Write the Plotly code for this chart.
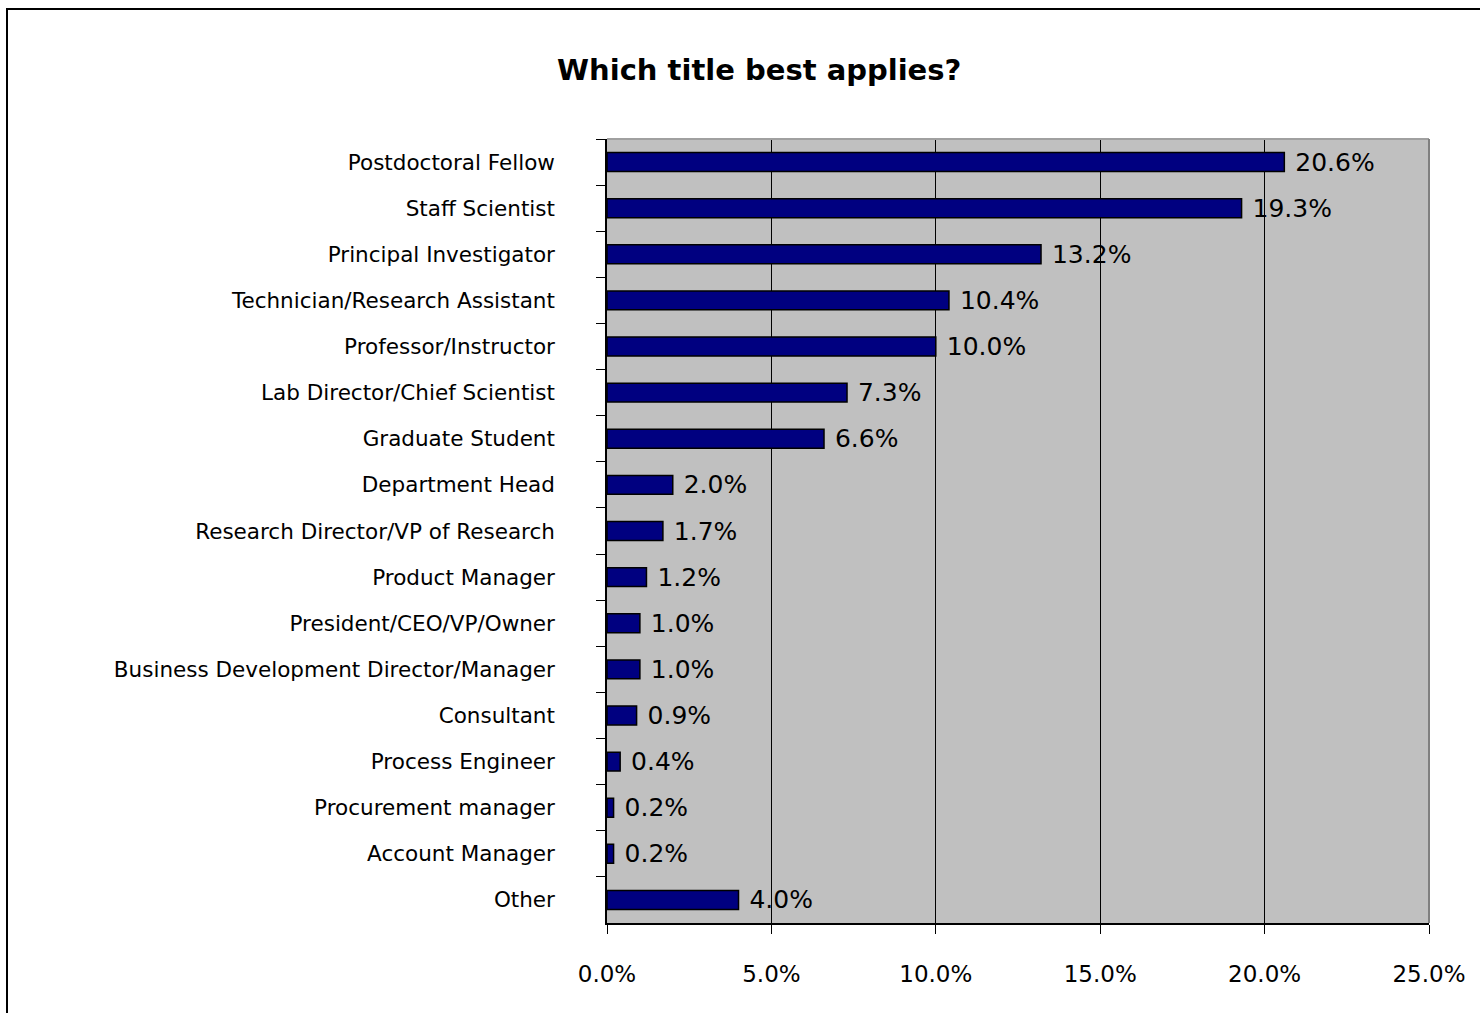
import plotly.graph_objects as go

# Survey responses: share of respondents per job title (percent)
titles = [
    "Postdoctoral Fellow",
    "Staff Scientist",
    "Principal Investigator",
    "Technician/Research Assistant",
    "Professor/Instructor",
    "Lab Director/Chief Scientist",
    "Graduate Student",
    "Department Head",
    "Research Director/VP of Research",
    "Product Manager",
    "President/CEO/VP/Owner",
    "Business Development Director/Manager",
    "Consultant",
    "Process Engineer",
    "Procurement manager",
    "Account Manager",
    "Other",
]
shares = [20.6, 19.3, 13.2, 10.4, 10.0, 7.3, 6.6, 2.0, 1.7, 1.2, 1.0, 1.0, 0.9, 0.4, 0.2, 0.2, 4.0]
x_ticks = [0, 5, 10, 15, 20, 25]

FONT = "DejaVu Sans"

fig = go.Figure(
    go.Bar(
        x=shares,
        y=titles,
        orientation="h",
        marker=dict(color="#000080", line=dict(color="black", width=1.5)),
        width=0.41,
        text=["\u00a0" + f"{v:.1f}%" for v in shares],
        textposition="outside",
        constraintext="none",
        textfont=dict(family=FONT, size=25, color="black"),
        cliponaxis=False,
        hoverinfo="skip",
    )
)

fig.update_layout(
    width=1480,
    height=1013,
    margin=dict(l=607, r=51, t=139, b=90),
    paper_bgcolor="white",
    plot_bgcolor="#C0C0C0",
    showlegend=False,
    font=dict(family=FONT, color="black"),
    title=dict(
        text="<b>Which title best applies?</b>",
        x=0.513,
        xanchor="center",
        y=1 - 70 / 1013,
        yanchor="middle",
        font=dict(family=FONT, size=29, color="black"),
    ),
    xaxis=dict(
        range=[0, 25],
        tickvals=x_ticks,
        ticktext=[f"{v:.1f}%" for v in x_ticks],
        ticks="outside",
        ticklen=9,
        tickcolor="black",
        tickfont=dict(family=FONT, size=23, color="black"),
        ticklabelstandoff=21,
        showgrid=True,
        gridcolor="black",
        gridwidth=1,
        showline=True,
        linecolor="black",
        linewidth=1.5,
        zeroline=False,
        fixedrange=True,
    ),
    yaxis=dict(
        autorange="reversed",
        tickson="boundaries",
        ticks="outside",
        ticklen=9,
        tickcolor="black",
        tickfont=dict(family=FONT, size=21.5, color="black"),
        ticklabelstandoff=46,
        showgrid=False,
        showline=True,
        linecolor="black",
        linewidth=1.5,
        fixedrange=True,
    ),
    shapes=[
        # plot area frame (top and right edges)
        dict(type="line", xref="paper", yref="paper", x0=0, x1=1, y0=1, y1=1,
             line=dict(color="#A0A0A0", width=2)),
        dict(type="line", xref="paper", yref="paper", x0=1, x1=1, y0=0, y1=1,
             line=dict(color="#808080", width=2)),
        # outer chart border
        dict(type="rect", xref="paper", yref="paper",
             x0=(7 - 607) / 822, x1=(1500 - 607) / 822,
             y0=(923 - 1030) / 784, y1=(923 - 9) / 784,
             line=dict(color="black", width=2), fillcolor="rgba(0,0,0,0)"),
    ],
)

fig.write_html("out.html")
